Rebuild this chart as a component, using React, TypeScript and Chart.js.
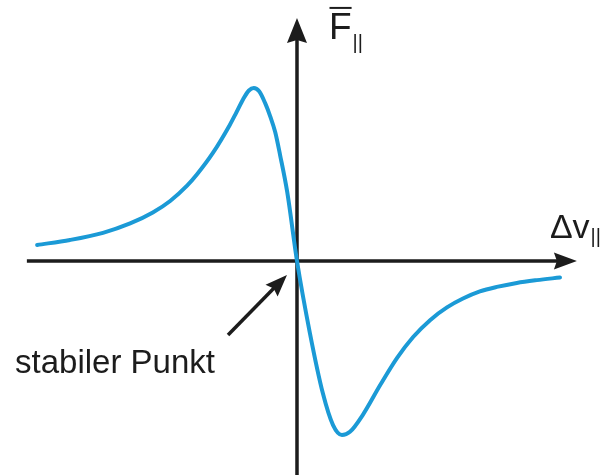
import React, { useEffect, useRef } from "react";
import { Chart, registerables } from "chart.js";

Chart.register(...registerables);

// Curve: force vs. velocity difference (arbitrary units)
const CURVE_X = [
  -5.84, -5.1, -4.36, -3.75, -3.24, -2.85, -2.47, -2.25, -1.89, -1.51, -1.37,
  -1.21, -1.08, -0.97, -0.85, -0.72, -0.6, -0.49, -0.38, -0.22, 0, 0.29, 0.58,
  0.81, 1.01, 1.19, 1.48, 1.87, 2.25, 2.61, 2.99, 3.37, 3.73, 4.11, 4.49, 4.94,
  5.39, 5.91,
];
const CURVE_Y = [
  0.092, 0.121, 0.162, 0.216, 0.279, 0.345, 0.433, 0.497, 0.621, 0.782, 0.85,
  0.93, 0.98, 0.994, 0.975, 0.91, 0.83, 0.741, 0.609, 0.397, 0, -0.414, -0.759,
  -0.943, -1.0, -0.982, -0.884, -0.713, -0.557, -0.437, -0.34, -0.267, -0.216,
  -0.175, -0.149, -0.126, -0.11, -0.095,
];

// Axis extents (data units)
const X_AXIS_RANGE = [-6.07, 6.29];
const Y_AXIS_RANGE = [-1.3, 1.397];
// Visible window (data units)
const X_WINDOW = [-6.674, 6.854];
const Y_WINDOW = [-1.23, 1.5];

// Labels
const Y_LABEL = "F";
const X_LABEL = "Δv";
const SUB_LABEL = "||";
const POINT_LABEL = "stabiler Punkt";
// Annotation arrow (data units): from -> to
const POINT_ARROW_FROM = [-1.55, -0.425];
const POINT_ARROW_TO = [-0.225, -0.08];

const AXIS_COLOR = "#1c1c1c";
const CURVE_COLOR = "#1b9ad6";
const FONT = "'Liberation Sans', Arial, sans-serif";

function arrowHead(
  ctx: CanvasRenderingContext2D,
  tx: number,
  ty: number,
  angle: number,
  len: number,
  half: number,
  notch: number
) {
  ctx.save();
  ctx.translate(tx, ty);
  ctx.rotate(angle);
  ctx.beginPath();
  ctx.moveTo(0, 0);
  ctx.lineTo(-len, -half);
  ctx.lineTo(-len + notch, 0);
  ctx.lineTo(-len, half);
  ctx.closePath();
  ctx.fill();
  ctx.restore();
}

const decorPlugin = {
  id: "decor",
  beforeDatasetsDraw(chart: any) {
    const { ctx, scales } = chart;
    const xs = scales.x;
    const ys = scales.y;
    const x0 = xs.getPixelForValue(0);
    const y0 = ys.getPixelForValue(0);
    const xl = xs.getPixelForValue(X_AXIS_RANGE[0]);
    const xr = xs.getPixelForValue(X_AXIS_RANGE[1]);
    const yb = ys.getPixelForValue(Y_AXIS_RANGE[0]);
    const yt = ys.getPixelForValue(Y_AXIS_RANGE[1]);
    ctx.save();
    ctx.strokeStyle = AXIS_COLOR;
    ctx.fillStyle = AXIS_COLOR;
    ctx.lineWidth = 3.5;
    ctx.beginPath();
    ctx.moveTo(xl, y0);
    ctx.lineTo(xr - 18, y0);
    ctx.moveTo(x0, yb);
    ctx.lineTo(x0, yt + 18);
    ctx.stroke();
    arrowHead(ctx, xr, y0, 0, 23, 8.5, 3);
    arrowHead(ctx, x0, yt, -Math.PI / 2, 25, 10, 3);
    ctx.restore();
  },
  afterDatasetsDraw(chart: any) {
    const { ctx, scales } = chart;
    const xs = scales.x;
    const ys = scales.y;
    const x0 = xs.getPixelForValue(0);
    const y0 = ys.getPixelForValue(0);
    const xr = xs.getPixelForValue(X_AXIS_RANGE[1]);
    const yt = ys.getPixelForValue(Y_AXIS_RANGE[1]);
    ctx.save();
    ctx.fillStyle = AXIS_COLOR;
    ctx.strokeStyle = AXIS_COLOR;
    ctx.textBaseline = "alphabetic";
    ctx.textAlign = "left";

    // y label F with overline and subscript
    ctx.font = `37px ${FONT}`;
    const fx = x0 + 32;
    const fy = yt + 21;
    ctx.fillText(Y_LABEL, fx, fy);
    const fw = ctx.measureText(Y_LABEL).width;
    ctx.lineWidth = 2;
    ctx.beginPath();
    ctx.moveTo(fx + 0.5, yt - 10);
    ctx.lineTo(fx + fw, yt - 10);
    ctx.stroke();
    ctx.font = `20px ${FONT}`;
    ctx.fillText(SUB_LABEL, fx + fw + 1, fy + 10);

    // x label Δv with subscript
    ctx.font = `34px ${FONT}`;
    const dx = xr - 27;
    const dy = y0 - 23;
    ctx.fillText(X_LABEL, dx, dy);
    const dw = ctx.measureText(X_LABEL).width;
    ctx.font = `20px ${FONT}`;
    ctx.fillText(SUB_LABEL, dx + dw + 1, dy + 5);

    // stable point annotation
    const ax0 = xs.getPixelForValue(POINT_ARROW_FROM[0]);
    const ay0 = ys.getPixelForValue(POINT_ARROW_FROM[1]);
    const ax1 = xs.getPixelForValue(POINT_ARROW_TO[0]);
    const ay1 = ys.getPixelForValue(POINT_ARROW_TO[1]);
    const ang = Math.atan2(ay1 - ay0, ax1 - ax0);
    ctx.lineWidth = 3.5;
    ctx.beginPath();
    ctx.moveTo(ax0, ay0);
    ctx.lineTo(ax1 - 16 * Math.cos(ang), ay1 - 16 * Math.sin(ang));
    ctx.stroke();
    arrowHead(ctx, ax1, ay1, ang, 22, 8.5, 3);

    ctx.font = `33px ${FONT}`;
    ctx.fillText(POINT_LABEL, ax0 - 213, ay0 + 38);
    ctx.restore();
  },
};

export default function App() {
  const ref = useRef<HTMLCanvasElement | null>(null);
  useEffect(() => {
    if (!ref.current) return;
    const chart = new Chart(ref.current, {
      type: "line",
      data: {
        datasets: [
          {
            data: CURVE_X.map((x, i) => ({ x, y: CURVE_Y[i] })),
            borderColor: CURVE_COLOR,
            borderWidth: 4,
            pointRadius: 0,
            fill: false,
            cubicInterpolationMode: "monotone",
            borderCapStyle: "round",
            borderJoinStyle: "round",
          },
        ],
      },
      options: {
        animation: false,
        responsive: false,
        maintainAspectRatio: false,
        layout: { padding: 0 },
        plugins: {
          legend: { display: false },
          tooltip: { enabled: false },
          title: { display: false },
        },
        scales: {
          x: { type: "linear", min: X_WINDOW[0], max: X_WINDOW[1], display: false },
          y: { type: "linear", min: Y_WINDOW[0], max: Y_WINDOW[1], display: false },
        },
      },
      plugins: [decorPlugin],
    });
    return () => chart.destroy();
  }, []);
  return (
    <div style={{ position: "absolute", left: 0, top: 0, width: 602, height: 475, background: "#fff" }}>
      <canvas ref={ref} width={602} height={475} style={{ display: "block" }} />
    </div>
  );
}
